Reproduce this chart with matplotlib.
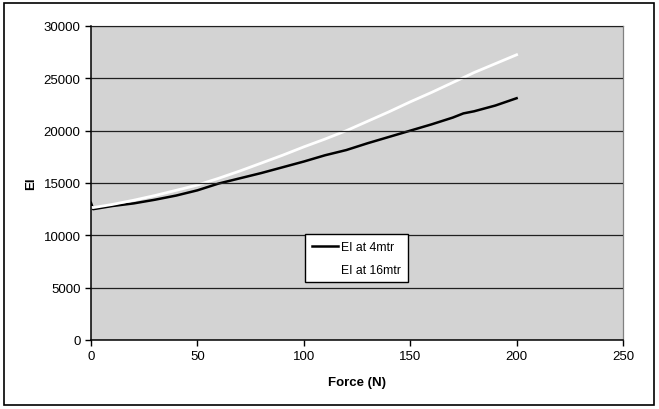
import matplotlib
matplotlib.use("Agg")
import matplotlib.pyplot as plt
from matplotlib.patches import Rectangle

force = [0, 1, 10, 20, 30, 40, 50, 60, 70, 80, 90, 100, 110, 120, 130, 140,
         150, 160, 170, 175, 180, 190, 200]
ei_4m = [13100, 12500, 12800, 13050, 13400, 13800, 14300, 14950, 15450, 15950,
         16500, 17050, 17650, 18150, 18800, 19400, 20000, 20600, 21250, 21650,
         21850, 22400, 23100]
ei_16m = [12700, 12650, 12950, 13350, 13800, 14300, 14800, 15450, 16150, 16900,
          17650, 18450, 19200, 20000, 20900, 21800, 22750, 23650, 24600, 25070,
          25550, 26400, 27250]

xticks = [0, 50, 100, 150, 200, 250]
yticks = [0, 5000, 10000, 15000, 20000, 25000, 30000]

plt.rcParams['font.family'] = ['Liberation Sans', 'DejaVu Sans']

fig = plt.figure(figsize=(6.59, 4.10), dpi=100)
fig.patches.append(Rectangle((4/659, 4/410), 650/659, 402/410, transform=fig.transFigure,
                             fill=False, edgecolor='black', linewidth=1.2))
ax = fig.add_axes([91/659, 1 - 341/410, 532/659, 314/410])
ax.set_facecolor('#D3D3D3')

ax.plot(force, ei_4m, color='black', linewidth=1.8, label='EI at 4mtr')
ax.plot(force, ei_16m, color='white', linewidth=2.0, label='EI at 16mtr')

ax.set_xlim(0, 250)
ax.set_ylim(0, 30000)
ax.set_xticks(xticks)
ax.set_yticks(yticks)
ax.set_xticklabels([str(t) for t in xticks])
ax.set_yticklabels([str(t) for t in yticks])
ax.tick_params(direction='out', length=4, width=1, labelsize=9.5, colors='black')
ax.grid(axis='y', color='#202020', linewidth=0.9)
ax.set_axisbelow(False)
for s in ['top', 'right']:
    ax.spines[s].set_color('#808080')
    ax.spines[s].set_linewidth(0.9)
for s in ['left', 'bottom']:
    ax.spines[s].set_color('black')
    ax.spines[s].set_linewidth(1.1)

ax.set_xlabel('Force (N)', fontsize=9.5, fontweight='bold', labelpad=10)
ax.set_ylabel('EI', fontsize=9.5, fontweight='bold', labelpad=5)

leg = ax.legend(loc='upper left', bbox_to_anchor=(0.402, 0.336), fontsize=8.8,
                frameon=True, fancybox=False, edgecolor='black', framealpha=1,
                handlelength=2.2, handletextpad=0.2, borderpad=0.55, labelspacing=0.85,
                borderaxespad=0)
leg.get_frame().set_linewidth(1.0)

fig.savefig('out.png', dpi=100)
